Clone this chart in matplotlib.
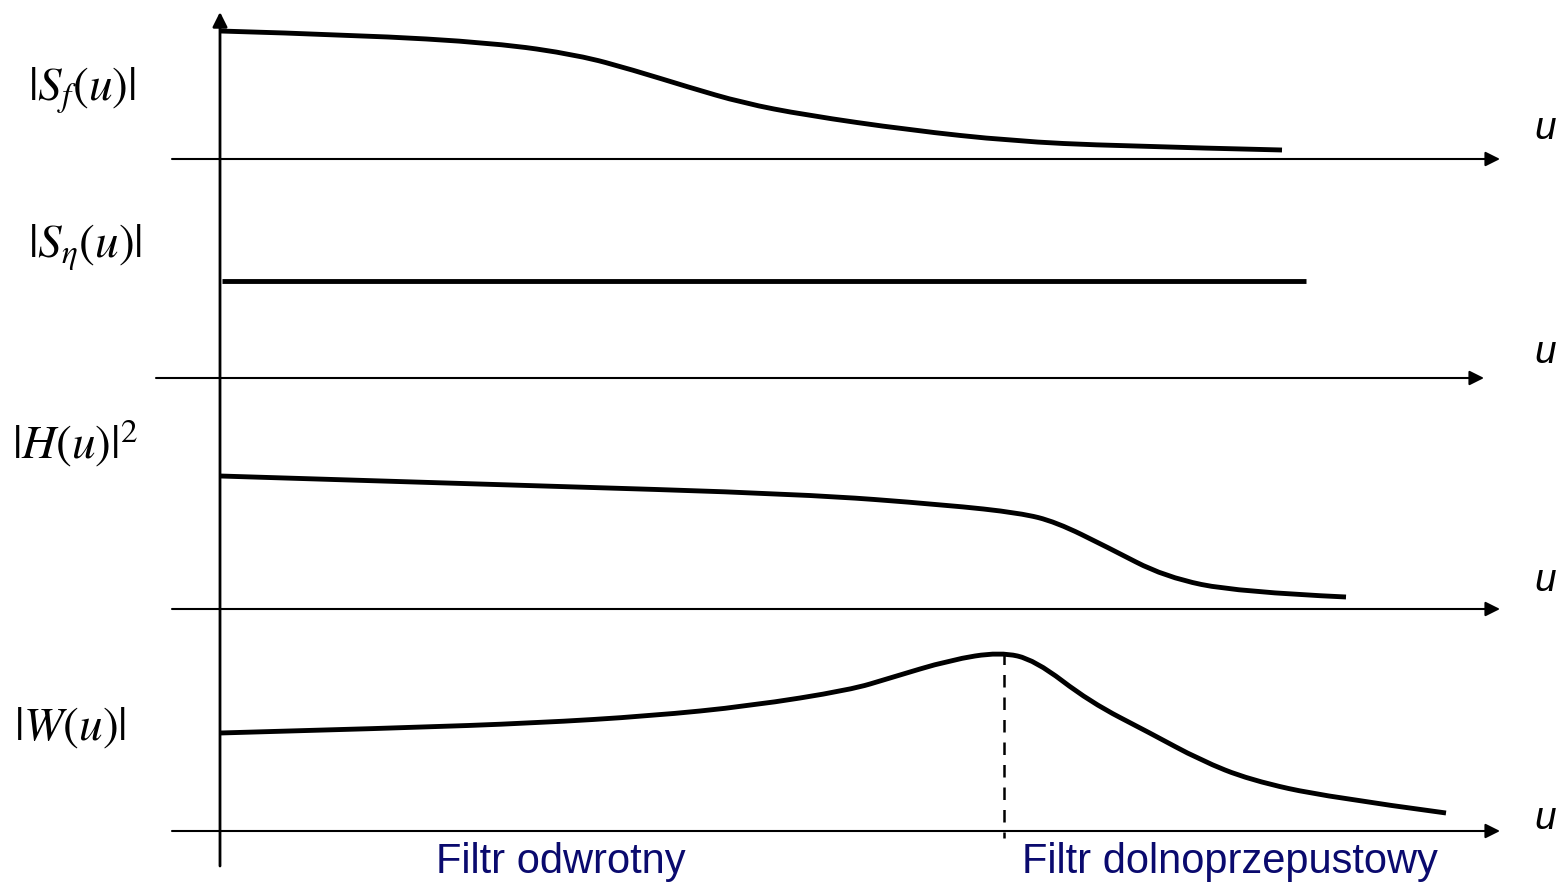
import matplotlib.pyplot as plt
from matplotlib.path import Path
from matplotlib.patches import PathPatch

plt.rcParams['mathtext.fontset'] = 'stix'

# Krzywe (wspolrzedne w jednostkach rysunku: x w prawo, y w dol)
sf_x = [220, 358, 495, 578, 633, 688, 743, 805, 909, 1012, 1115, 1282]
sf_y = [31, 35, 43, 55, 70, 87, 103, 115, 130, 141, 146, 150]

sn_x = [222, 1306]
sn_y = [281, 281]

h_x = [220, 511, 802, 947, 1020, 1056, 1107, 1165, 1238, 1346]
h_y = [476, 485, 494, 505, 513, 522, 547, 577, 592, 597]

w_x = [220, 400, 536, 650, 750, 850, 890, 950, 1000, 1035, 1090, 1150,
       1200, 1250, 1327, 1446]
w_y = [733, 728, 723, 716, 706, 690, 678, 660, 652, 660, 702, 733,
       760, 780, 797, 813]

# Osie poziome: (x poczatek, x koniec, y)
osie_u = [(172, 1500, 159), (156, 1484, 378), (172, 1500, 609), (172, 1500, 831)]
etykiety = [r'$|S_f(u)|$', r'$|S_\eta(u)|$', r'$|H(u)|^2$', r'$|W(u)|$']
etykiety_xy = [(28, 91), (28, 248), (12, 443), (14, 728)]
u_xy = [(1545, 129), (1545, 353), (1545, 581), (1545, 819)]
x_graniczne = 1004


def gladka(xs, ys):
    # lancuch krzywych Beziera 2. stopnia przez srodki odcinkow
    pts = list(zip(xs, ys))
    if len(pts) < 3:
        return Path(pts)
    verts = [pts[0]]
    codes = [Path.MOVETO]
    for i in range(1, len(pts) - 1):
        mx = (pts[i][0] + pts[i + 1][0]) / 2
        my = (pts[i][1] + pts[i + 1][1]) / 2
        if i == len(pts) - 2:
            mx, my = pts[-1]
        verts += [pts[i], (mx, my)]
        codes += [Path.CURVE3, Path.CURVE3]
    return Path(verts, codes)


fig = plt.figure(figsize=(15.59, 8.84), dpi=100)
ax = fig.add_axes([0, 0, 1, 1])
ax.set_xlim(0, 1559)
ax.set_ylim(884, 0)
ax.axis('off')

# os pionowa
ax.annotate('', xy=(220, 12), xytext=(220, 866),
            arrowprops=dict(arrowstyle='-|>', color='black', lw=2,
                            mutation_scale=22, shrinkA=0, shrinkB=0))

for x0, x1, y in osie_u:
    ax.annotate('', xy=(x1, y), xytext=(x0, y),
                arrowprops=dict(arrowstyle='-|>', color='black', lw=1.5,
                                mutation_scale=22, shrinkA=0, shrinkB=0))

for xs, ys in [(sf_x, sf_y), (sn_x, sn_y), (h_x, h_y), (w_x, w_y)]:
    ax.add_patch(PathPatch(gladka(xs, ys), facecolor='none', edgecolor='black',
                           lw=3.5, capstyle='butt'))

ax.plot([x_graniczne, x_graniczne], [652, 838], color='black', lw=1.8,
        linestyle=(0, (5, 4)))

for txt, (x, y) in zip(etykiety, etykiety_xy):
    ax.text(x, y, txt, fontsize=34, ha='left', va='center')

for x, y in u_xy:
    ax.text(x, y, 'u', fontsize=28, style='italic', family='Liberation Sans',
            ha='center', va='center')

ax.text(436, 862, 'Filtr odwrotny', fontsize=30, family='Liberation Sans',
        color='#0A0A6E', ha='left', va='center')
ax.text(1022, 862, 'Filtr dolnoprzepustowy', fontsize=30, family='Liberation Sans',
        color='#0A0A6E', ha='left', va='center')

fig.savefig('out.png', dpi=100)
